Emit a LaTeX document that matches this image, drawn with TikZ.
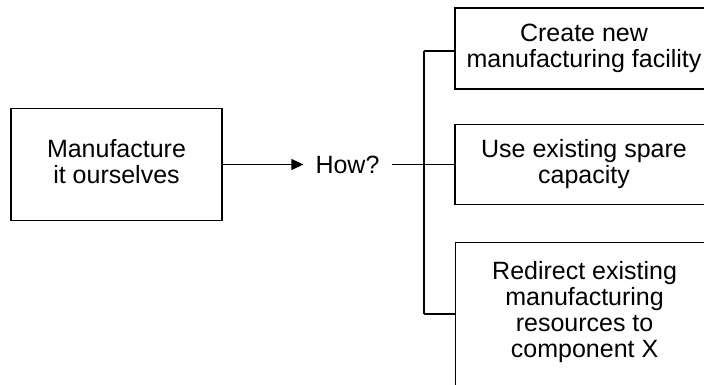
\documentclass[tikz,border=0pt]{standalone}
\usepackage{fontspec}
\setmainfont{Liberation Sans}
\usetikzlibrary{arrows.meta,calc}

\begin{document}
\begin{tikzpicture}[
    x=1pt, y=-1pt,
    every node/.style={inner sep=0pt, font=\fontsize{25}{26}\selectfont, align=center},
    box/.style={draw, line width=1.2pt, rectangle},
    link/.style={line width=1.2pt},
    arrowlink/.style={link, -{Triangle[length=12pt,width=11pt]}}
  ]
  \useasboundingbox (0,0) rectangle (704,385);
  \clip (0,0) rectangle (704,385);

  % decision on the left
  \node[box, minimum width=211pt, minimum height=112pt] (own) at (116.5,164.5) {};
  \node (owntxt) at ($(own.center)+(0,-3)$) {Manufacture\\it ourselves};

  % question in the middle
  \node[inner xsep=12pt] (how) at (347.5,164.5) {How?};

  % three options on the right
  \node[box, minimum width=258pt, minimum height=81pt] (opt1) at (584,48.5)
    {Create new\\manufacturing facility};
  \node[box, minimum width=258pt, minimum height=80pt] (opt2) at (584,164.5)
    {Use existing spare\\capacity};
  \node[box, minimum width=258pt, minimum height=160pt, anchor=north west] (opt3) at (455,242) {};
  \node[anchor=north] (opt3txt) at ($(opt3.north)+(0,19)$)
    {Redirect existing\\manufacturing\\resources to\\component X};

  % connectors
  \draw[arrowlink] (own.east) -- (how.west);
  \draw[link] (how.east) -- (opt2.west);

  \coordinate (jtop) at (424,51);
  \coordinate (jbot) at (424,314);
  \draw[link] (jtop) -- (jbot);
  \draw[link] (jtop) -- (jtop -| opt1.west);
  \draw[link] (jbot) -- (jbot -| opt3.west);
\end{tikzpicture}
\end{document}
